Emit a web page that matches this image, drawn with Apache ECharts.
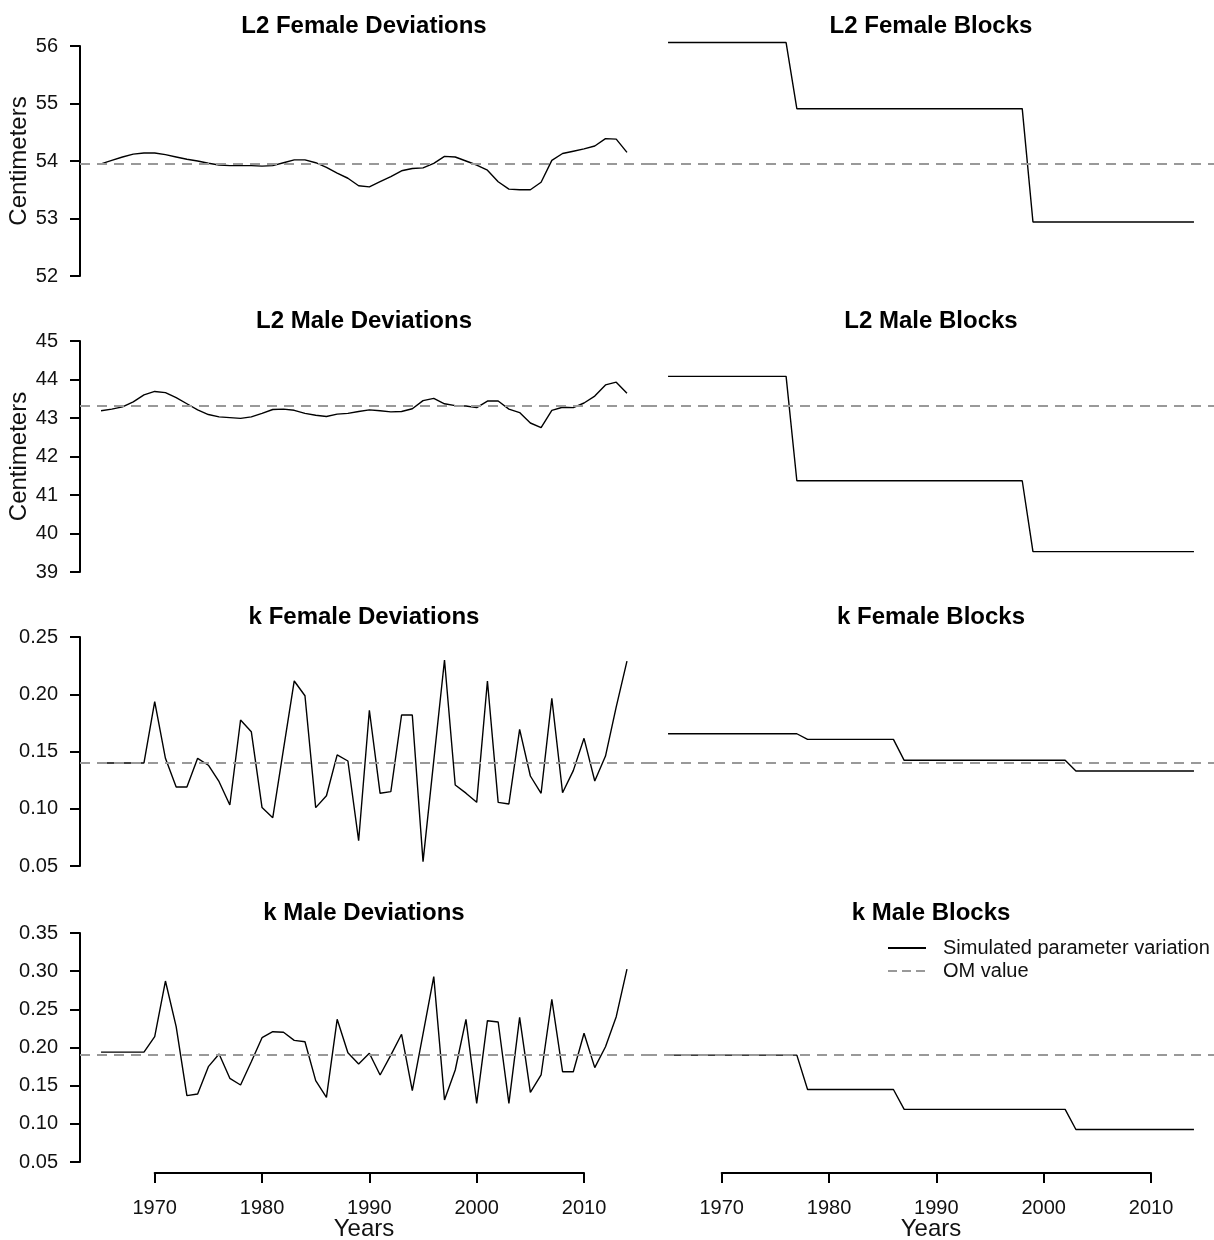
<!DOCTYPE html>
<html>
<head>
<meta charset="utf-8">
<script src="https://cdn.jsdelivr.net/npm/echarts@6/dist/echarts.min.js"></script>
<style>
html,body{margin:0;padding:0;background:#fff;}
#chart{width:1214px;height:1240px;}
</style>
</head>
<body>
<div id="chart"></div>
<script>
// ---------------- DATA ----------------
const years = [1965,1966,1967,1968,1969,1970,1971,1972,1973,1974,
               1975,1976,1977,1978,1979,1980,1981,1982,1983,1984,
               1985,1986,1987,1988,1989,1990,1991,1992,1993,1994,
               1995,1996,1997,1998,1999,2000,2001,2002,2003,2004,
               2005,2006,2007,2008,2009,2010,2011,2012,2013,2014];

const l2FemaleDev = [53.95,54.01,54.07,54.12,54.14,54.14,54.11,54.07,54.03,54.00,
                     53.96,53.93,53.92,53.92,53.92,53.91,53.92,53.97,54.02,54.02,
                     53.97,53.89,53.79,53.70,53.57,53.55,53.64,53.73,53.83,53.87,
                     53.88,53.96,54.08,54.07,54.00,53.93,53.84,53.64,53.51,53.50,
                     53.50,53.63,54.01,54.13,54.17,54.21,54.26,54.39,54.38,54.15];

const l2MaleDev = [43.19,43.23,43.29,43.42,43.60,43.69,43.66,43.53,43.37,43.21,
                   43.09,43.03,43.01,42.99,43.03,43.12,43.22,43.23,43.20,43.12,
                   43.07,43.04,43.10,43.12,43.17,43.21,43.19,43.16,43.17,43.24,
                   43.45,43.51,43.37,43.32,43.31,43.27,43.44,43.44,43.23,43.14,
                   42.87,42.75,43.20,43.28,43.27,43.39,43.57,43.86,43.93,43.64];

const kFemaleDev = [0.140,0.140,0.140,0.140,0.140,0.1935,0.144,0.119,0.119,0.144,
                    0.138,0.1236,0.1033,0.1775,0.1673,0.101,0.0922,0.152,0.2116,0.1987,
                    0.101,0.1114,0.147,0.1417,0.0721,0.186,0.1135,0.115,0.1819,0.1819,
                    0.0538,0.142,0.2299,0.1207,0.1136,0.1056,0.2116,0.1056,0.1042,0.1694,
                    0.1286,0.1135,0.1964,0.114,0.1333,0.1615,0.1242,0.146,0.189,0.229];

const kMaleDev = [0.194,0.194,0.194,0.194,0.194,0.2142,0.2871,0.2273,0.1369,0.139,
                  0.1749,0.1915,0.1596,0.1509,0.1814,0.2128,0.2207,0.220,0.2094,0.2076,
                  0.1566,0.1347,0.2369,0.1932,0.1784,0.1925,0.164,0.190,0.2173,0.1435,
                  0.218,0.2928,0.1312,0.1705,0.2369,0.1269,0.2351,0.2334,0.1269,0.2395,
                  0.1413,0.164,0.2631,0.1683,0.1683,0.2186,0.1736,0.201,0.2404,0.3028];

// block series: years at the ends of each block and the block values
const l2BlockYears   = [1965,1976,1977,1998,1999,2014];
const l2FemaleBlock  = [56.06,56.06,54.91,54.91,52.94,52.94];
const l2MaleBlock    = [44.08,44.08,41.37,41.37,39.53,39.53];
const kBlockYears    = [1965,1977,1978,1986,1987,2002,2003,2014];
const kFemaleBlock   = [0.1655,0.1655,0.1606,0.1606,0.1423,0.1423,0.133,0.133];
const kMaleBlock     = [0.190,0.190,0.145,0.145,0.119,0.119,0.0926,0.0926];

// operating-model values (dashed reference lines)
const omValues = [53.96, 43.33, 0.1406, 0.1937];

// titles
const devTitles   = ['L2 Female Deviations','L2 Male Deviations','k Female Deviations','k Male Deviations'];
const blockTitles = ['L2 Female Blocks','L2 Male Blocks','k Female Blocks','k Male Blocks'];

// y-axis ticks per row
const yMin      = [52, 39, 0.05, 0.05];
const yMax      = [56, 45, 0.25, 0.35];
const yInterval = [1, 1, 0.05, 0.05];
const yDecimals = [0, 0, 2, 2];
const yNames    = ['Centimeters','Centimeters','',''];

// x-axis ticks
const xTickMin = 1970, xTickMax = 2010, xTickInterval = 10;

const SERIES_NAME = 'Simulated parameter variation';
const OM_NAME = 'OM value';

// ---------------- LAYOUT ----------------
const FONT = '"Liberation Sans", Arial, Helvetica, sans-serif';
const X_MIN = 1963.04, X_MAX = 2015.96;
const LEFT_X = 80, RIGHT_X = 647, PANEL_W = 568;
const rowTop = [46, 341, 637, 933];
const rowBot = [276, 572, 866, 1162];
const AXIS_Y = 1173;
const DASH = [10, 7];
const TEXT_COLOR = '#111';
const TICK_FONT = 20;

function px(year, left) { return left + (year - X_MIN) / (X_MAX - X_MIN) * PANEL_W; }

const grid = [], xAxis = [], yAxis = [], series = [], title = [];

const blockData = [
  [l2BlockYears, l2FemaleBlock],
  [l2BlockYears, l2MaleBlock],
  [kBlockYears, kFemaleBlock],
  [kBlockYears, kMaleBlock]
];
const devData = [l2FemaleDev, l2MaleDev, kFemaleDev, kMaleDev];

function omSeries(idx, om) {
  return {
    name: OM_NAME, type: 'line', xAxisIndex: idx, yAxisIndex: idx,
    data: [], symbol: 'none', color: '#999',
    lineStyle: { color: '#999', width: 2, type: DASH },
    markLine: {
      silent: true, symbol: ['none', 'none'], label: { show: false },
      lineStyle: { color: '#999', width: 2, type: DASH },
      emphasis: { disabled: true },
      data: [{ yAxis: om }]
    }
  };
}

for (let r = 0; r < 4; r++) {
  const h = rowBot[r] - rowTop[r];
  const isBottom = r === 3;
  const dec = yDecimals[r];
  grid[r]     = { left: LEFT_X,  top: rowTop[r], width: PANEL_W, height: h, outerBoundsMode: 'none', containLabel: false };
  grid[r + 4] = { left: RIGHT_X, top: rowTop[r], width: PANEL_W, height: h, outerBoundsMode: 'none', containLabel: false };

  const hiddenX = (g) => ({
    gridIndex: g, type: 'value', min: X_MIN, max: X_MAX,
    show: isBottom,
    axisLine: { show: false }, axisTick: { show: false }, axisLabel: { show: false },
    splitLine: { show: false },
    name: isBottom ? 'Years' : '', nameLocation: 'middle', nameGap: 44,
    offset: AXIS_Y - rowBot[r],
    nameTextStyle: { fontSize: 24, color: TEXT_COLOR, fontFamily: FONT }
  });
  xAxis[r] = hiddenX(r);
  xAxis[r + 4] = hiddenX(r + 4);

  yAxis[r] = {
    gridIndex: r, type: 'value', min: yMin[r], max: yMax[r], interval: yInterval[r],
    axisLine: { show: true, lineStyle: { color: '#000', width: 2 } },
    axisTick: { show: true, length: 10, lineStyle: { color: '#000', width: 2 } },
    axisLabel: { margin: 22, fontSize: TICK_FONT, color: TEXT_COLOR, fontFamily: FONT,
                 formatter: (v) => Number(v).toFixed(dec) },
    splitLine: { show: false },
    name: yNames[r], nameLocation: 'middle', nameGap: 46,
    nameTextStyle: { fontSize: 24, color: TEXT_COLOR, fontFamily: FONT }
  };
  yAxis[r + 4] = {
    gridIndex: r + 4, type: 'value', min: yMin[r], max: yMax[r], interval: yInterval[r], show: false,
    splitLine: { show: false }
  };

  series.push({
    name: SERIES_NAME, type: 'line', xAxisIndex: r, yAxisIndex: r,
    data: years.map((y, i) => [y, devData[r][i]]),
    symbol: 'none', clip: false, color: '#000',
    lineStyle: { color: '#000', width: 1.4 }
  });
  series.push(omSeries(r, omValues[r]));

  const [bx, bv] = blockData[r];
  series.push({
    name: SERIES_NAME, type: 'line', xAxisIndex: r + 4, yAxisIndex: r + 4,
    data: bx.map((y, i) => [y, bv[i]]),
    symbol: 'none', clip: false, color: '#000',
    lineStyle: { color: '#000', width: 1.4 }
  });
  series.push(omSeries(r + 4, omValues[r]));

  const tTop = rowTop[r] - 32;
  title.push({ text: devTitles[r], left: LEFT_X + PANEL_W / 2, top: tTop, textAlign: 'center', padding: 0,
               textStyle: { fontSize: 24, fontWeight: 'bold', color: '#000', fontFamily: FONT } });
  title.push({ text: blockTitles[r], left: RIGHT_X + PANEL_W / 2, top: tTop, textAlign: 'center', padding: 0,
               textStyle: { fontSize: 24, fontWeight: 'bold', color: '#000', fontFamily: FONT } });
}

// bottom axis-only grids (axis line spans only the labelled years)
[LEFT_X, RIGHT_X].forEach((left, k) => {
  const g = 8 + k;
  const gl = px(xTickMin, left), gr = px(xTickMax, left);
  grid[g] = { left: gl, width: gr - gl, top: AXIS_Y - 1, height: 1, outerBoundsMode: 'none', containLabel: false };
  xAxis[g] = {
    gridIndex: g, type: 'value', min: xTickMin, max: xTickMax, interval: xTickInterval,
    axisLine: { show: true, lineStyle: { color: '#000', width: 2 } },
    axisTick: { show: true, length: 10, lineStyle: { color: '#000', width: 2 } },
    axisLabel: { margin: 25, fontSize: TICK_FONT, color: TEXT_COLOR, fontFamily: FONT, formatter: (v) => String(v) },
    splitLine: { show: false }
  };
  yAxis[g] = { gridIndex: g, type: 'value', min: 0, max: 1, show: false, splitLine: { show: false } };
});

const option = {
  backgroundColor: '#fff',
  animation: false,
  title: title,
  grid: grid,
  xAxis: xAxis,
  yAxis: yAxis,
  legend: {
    left: 887, top: 938, orient: 'vertical', padding: 0,
    itemWidth: 38, itemHeight: 14, itemGap: 3,
    selectedMode: false,
    itemStyle: { opacity: 0 },
    textStyle: { fontSize: 20, color: TEXT_COLOR, fontFamily: FONT, lineHeight: 20, padding: [0, 0, 0, 12] },
    data: [
      { name: SERIES_NAME, itemStyle: { opacity: 0 }, lineStyle: { color: '#000', width: 2, type: 'solid' } },
      { name: OM_NAME, itemStyle: { opacity: 0 }, lineStyle: { color: '#999', width: 2, type: [9, 5] } }
    ]
  },
  series: series
};

const chart = echarts.init(document.getElementById('chart'), null, { renderer: 'canvas' });
chart.setOption(option);
</script>
</body>
</html>
